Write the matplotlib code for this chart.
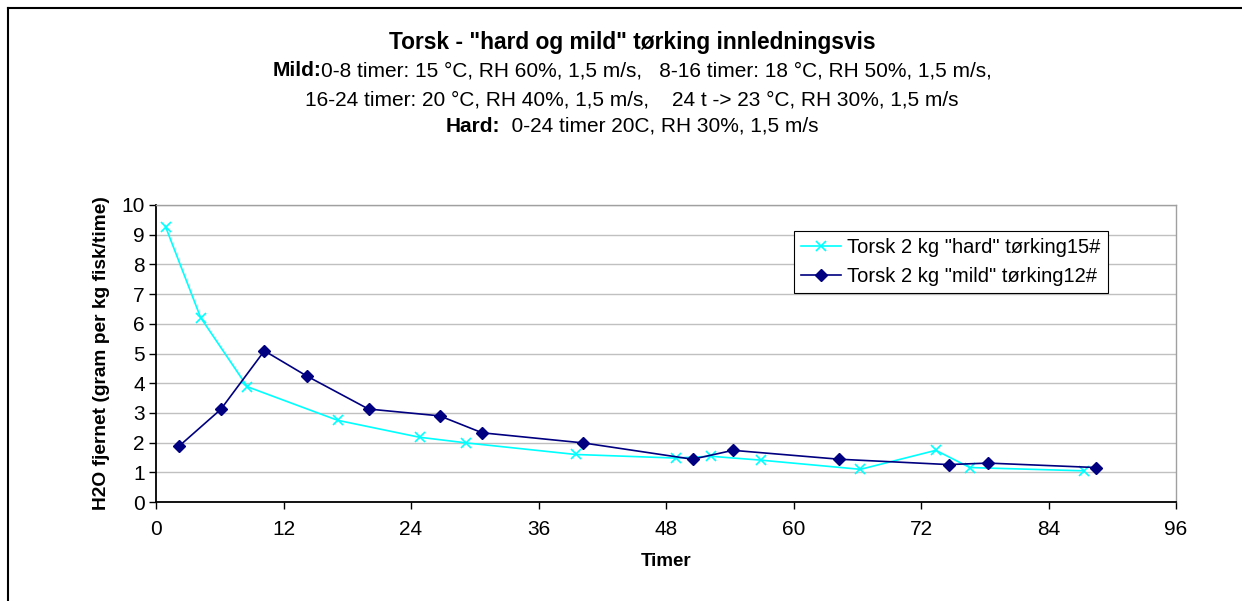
import matplotlib
matplotlib.use("Agg")
import matplotlib.pyplot as plt
from matplotlib.lines import Line2D

plt.rcParams["font.family"] = ["Liberation Sans", "DejaVu Sans"]

# ========= DATA =========
hard_t = [0.9, 4.2, 8.6, 17.1, 24.8, 29.2, 39.5, 48.9, 52.2, 56.9, 66.3, 73.4, 76.6, 87.3]
hard_v = [9.27, 6.21, 3.88, 2.75, 2.18, 1.99, 1.60, 1.48, 1.54, 1.41, 1.10, 1.74, 1.16, 1.05]

mild_t = [2.2, 6.1, 10.2, 14.2, 20.0, 26.7, 30.7, 40.2, 50.5, 54.3, 64.3, 74.6, 78.3, 88.5]
mild_v = [1.89, 3.12, 5.09, 4.24, 3.13, 2.90, 2.33, 1.99, 1.44, 1.74, 1.44, 1.26, 1.31, 1.16]

hard_label = 'Torsk 2 kg "hard" tørking15#'
mild_label = 'Torsk 2 kg "mild" tørking12#'

title = 'Torsk - "hard og mild" tørking innledningsvis'
sub_lines = [
    [("Mild:", "bold"), ("0-8 timer: 15 °C, RH 60%, 1,5 m/s,   8-16 timer: 18 °C, RH 50%, 1,5 m/s,", "normal")],
    [("16-24 timer: 20 °C, RH 40%, 1,5 m/s,    24 t -> 23 °C, RH 30%, 1,5 m/s", "normal")],
    [("Hard:", "bold"), ("  0-24 timer 20C, RH 30%, 1,5 m/s", "normal")],
]

x_ticks = [0, 12, 24, 36, 48, 60, 72, 84, 96]
y_ticks = list(range(0, 11))

# ========= FIGURE =========
W, H = 1242, 601
fig = plt.figure(figsize=(W / 100, H / 100), dpi=100)
ax = fig.add_axes([156 / W, 1 - 502 / H, (1176 - 156) / W, (502 - 205) / H])

ax.plot(hard_t, hard_v, color="#00FFFF", lw=1.2, marker="x", ms=7.5, mew=1.2, label=hard_label)
ax.plot(mild_t, mild_v, color="#000080", lw=1.2, marker="D", ms=6.3, label=mild_label)

ax.set_xlim(0, 96)
ax.set_ylim(0, 10)
ax.set_xticks(x_ticks)
ax.set_yticks(y_ticks)
ax.tick_params(direction="out", length=5, width=1, labelsize=15, colors="black")
ax.tick_params(axis="x", pad=8)
ax.tick_params(axis="y", pad=3)
ax.grid(axis="y", color="#c0c0c0", lw=1)
ax.set_axisbelow(True)

for side in ["left", "bottom"]:
    ax.spines[side].set_color("black")
    ax.spines[side].set_linewidth(1.3)
for side in ["top", "right"]:
    ax.spines[side].set_color("#a0a0a0")
    ax.spines[side].set_linewidth(1)

ax.set_xlabel("Timer", fontsize=13.5, fontweight="bold", labelpad=10)
ax.set_ylabel("H2O fjernet (gram per kg fisk/time)", fontsize=13.8, fontweight="bold", labelpad=8)

leg = ax.legend(loc="upper left", bbox_to_anchor=(0.6255, 0.912), fontsize=14.5,
                frameon=True, fancybox=False, edgecolor="black", framealpha=1,
                handlelength=2.0, handletextpad=0.3, borderpad=0.35,
                labelspacing=0.5, borderaxespad=0)
leg.get_frame().set_linewidth(0.8)

# ========= TITLE BLOCK =========
cx = 632 / W
fig.text(cx, 1 - 43 / H, title, ha="center", va="center", fontsize=16.4, fontweight="bold")

line_y = [71, 100, 126]
fig.canvas.draw()
renderer = fig.canvas.get_renderer()
for yy, parts in zip(line_y, sub_lines):
    texts = [fig.text(0, 1 - yy / H, s, fontweight=w, fontsize=15, va="center") for s, w in parts]
    widths = [t.get_window_extent(renderer).width for t in texts]
    x = cx * W - sum(widths) / 2
    for t, w in zip(texts, widths):
        t.set_x(x / W)
        x += w

# outer frame (top and left edges visible)
fig.add_artist(Line2D([8 / W, 1], [1 - 8 / H, 1 - 8 / H], transform=fig.transFigure, color="black", lw=1.5))
fig.add_artist(Line2D([8 / W, 8 / W], [0, 1 - 8 / H], transform=fig.transFigure, color="black", lw=1.5))

fig.savefig("out.png", dpi=100)
